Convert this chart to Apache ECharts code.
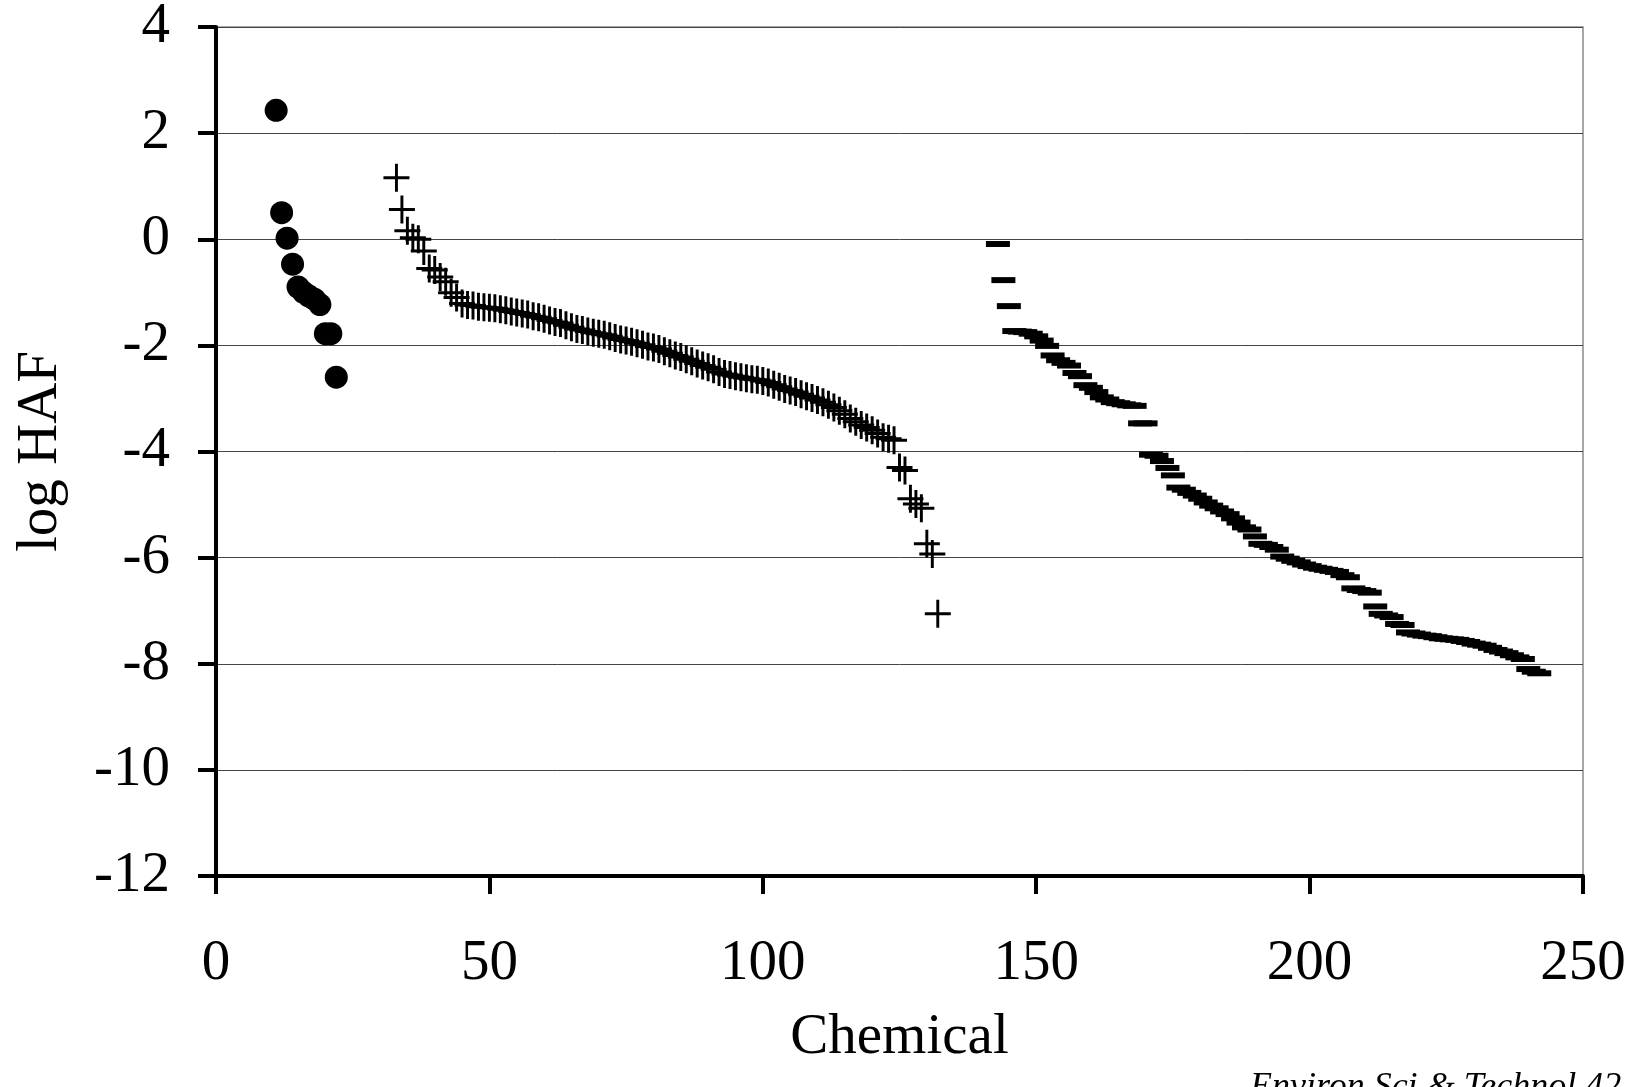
<!DOCTYPE html>
<html><head><meta charset="utf-8">
<script src="https://cdn.jsdelivr.net/npm/echarts@6/dist/echarts.min.js"></script>
<style>html,body{margin:0;padding:0;background:#fff}#c{width:1638px;height:1087px}</style>
</head><body><div id="c"></div>
<script>
// Rank (chemical number) of the first point in each group
const circleStart = 11;
const circleValues = [2.43, 0.50, 0.02, -0.47, -0.90, -1.00, -1.07, -1.13, -1.23, -1.78, -1.78, -2.60];

const plusStart = 33;
const plusValues = [
  1.16, 0.56, 0.16, 0.03, 0.00, -0.22, -0.55, -0.58, -0.71, -0.80,
  -1.01, -1.10, -1.21, -1.24, -1.25, -1.27, -1.28, -1.29, -1.30, -1.32,
  -1.34, -1.36, -1.38, -1.40, -1.42, -1.45, -1.47, -1.50, -1.53, -1.56,
  -1.58, -1.62, -1.66, -1.69, -1.71, -1.74, -1.76, -1.78, -1.80, -1.83,
  -1.86, -1.89, -1.91, -1.93, -1.96, -1.99, -2.02, -2.04, -2.07, -2.11,
  -2.15, -2.19, -2.22, -2.26, -2.30, -2.34, -2.38, -2.41, -2.45, -2.50,
  -2.54, -2.56, -2.58, -2.60, -2.62, -2.64, -2.65, -2.67, -2.70, -2.74,
  -2.78, -2.82, -2.85, -2.88, -2.92, -2.96, -2.99, -3.03, -3.07, -3.12,
  -3.17, -3.23, -3.30, -3.38, -3.44, -3.50, -3.55, -3.60, -3.66, -3.73,
  -3.76, -3.79, -4.30, -4.36, -4.89, -4.99, -5.07, -5.74, -5.93, -7.06
];

const dashStart = 143;
const dashValues = [
  -0.09, -0.77, -1.26, -1.73, -1.74, -1.75, -1.78, -1.83, -1.91, -2.01,
  -2.19, -2.28, -2.33, -2.38, -2.52, -2.58, -2.75, -2.80, -2.88, -2.98,
  -3.02, -3.07, -3.09, -3.11, -3.13, -3.14, -3.47, -3.47, -4.06, -4.08,
  -4.18, -4.31, -4.45, -4.68, -4.72, -4.78, -4.83, -4.89, -4.96, -5.02,
  -5.07, -5.13, -5.18, -5.26, -5.34, -5.43, -5.47, -5.60, -5.74, -5.76,
  -5.80, -5.85, -5.98, -6.02, -6.06, -6.09, -6.13, -6.16, -6.19, -6.21,
  -6.23, -6.25, -6.27, -6.33, -6.37, -6.58, -6.61, -6.63, -6.66, -6.92,
  -7.06, -7.09, -7.12, -7.25, -7.27, -7.41, -7.43, -7.45, -7.47, -7.48,
  -7.50, -7.52, -7.53, -7.54, -7.55, -7.57, -7.59, -7.62, -7.64, -7.66,
  -7.70, -7.74, -7.77, -7.80, -7.84, -7.88, -7.91, -8.10, -8.15, -8.18
];

const xAxisMin = 0, xAxisMax = 250, xAxisStep = 50;
const yAxisMin = -12, yAxisMax = 4, yAxisStep = 2;
const xTitle = 'Chemical';
const yTitle = 'log HAF';
const citation = 'Environ Sci & Technol 42';

function toPairs(start, vals) { return vals.map((v, i) => [start + i, v]); }

const SERIF = "'Liberation Serif', 'Times New Roman', serif";
const PLUS = 'path://M11.8,0 h3 v28 h-3 z M0,12.5 h26.6 v3 h-26.6 z';

const chart = echarts.init(document.getElementById('c'), null, { renderer: 'canvas' });
chart.setOption({
  animation: false,
  backgroundColor: '#fff',
  grid: { left: 216, right: 55, top: 27, bottom: 211, outerBoundsMode: 'none', containLabel: false,
          show: true, borderColor: '#8a8a8a', borderWidth: 1.5, backgroundColor: 'transparent' },
  xAxis: {
    type: 'value', min: xAxisMin, max: xAxisMax, interval: xAxisStep,
    name: xTitle, nameLocation: 'middle', nameGap: 134,
    nameTextStyle: { fontFamily: SERIF, fontSize: 57, color: '#000' },
    axisLine: { show: true, onZero: false, lineStyle: { color: '#000', width: 4 } },
    axisTick: { show: true, inside: false, length: 18, lineStyle: { color: '#000', width: 4 } },
    axisLabel: { fontFamily: SERIF, fontSize: 57, color: '#000', margin: 60 },
    splitLine: { show: false }
  },
  yAxis: {
    type: 'value', min: yAxisMin, max: yAxisMax, interval: yAxisStep,
    name: yTitle, nameLocation: 'middle', nameGap: 146, nameRotate: 90,
    nameTextStyle: { fontFamily: SERIF, fontSize: 57, color: '#000' },
    axisLine: { show: true, onZero: false, lineStyle: { color: '#000', width: 4 } },
    axisTick: { show: true, inside: false, length: 18, lineStyle: { color: '#000', width: 4 } },
    axisLabel: { fontFamily: SERIF, fontSize: 57, color: '#000', margin: 46 },
    splitLine: { show: true, lineStyle: { color: '#444', width: 1 } }
  },
  series: [
    { type: 'scatter', data: toPairs(circleStart, circleValues), symbol: 'circle', symbolSize: 23,
      itemStyle: { color: '#000', opacity: 1 }, z: 5 },
    { type: 'scatter', data: toPairs(plusStart, plusValues), symbol: PLUS, symbolSize: [26, 28],
      itemStyle: { color: '#000', opacity: 1 }, z: 5 },
    { type: 'scatter', data: toPairs(dashStart, dashValues), symbol: 'rect', symbolSize: [24, 6],
      itemStyle: { color: '#000', opacity: 1 }, z: 5 }
  ],
  graphic: [
    { type: 'text', left: 1250, top: 1070, z: 10,
      style: { text: citation, font: 'italic 36px ' + SERIF, fill: '#000' } }
  ]
});
</script>
</body></html>
